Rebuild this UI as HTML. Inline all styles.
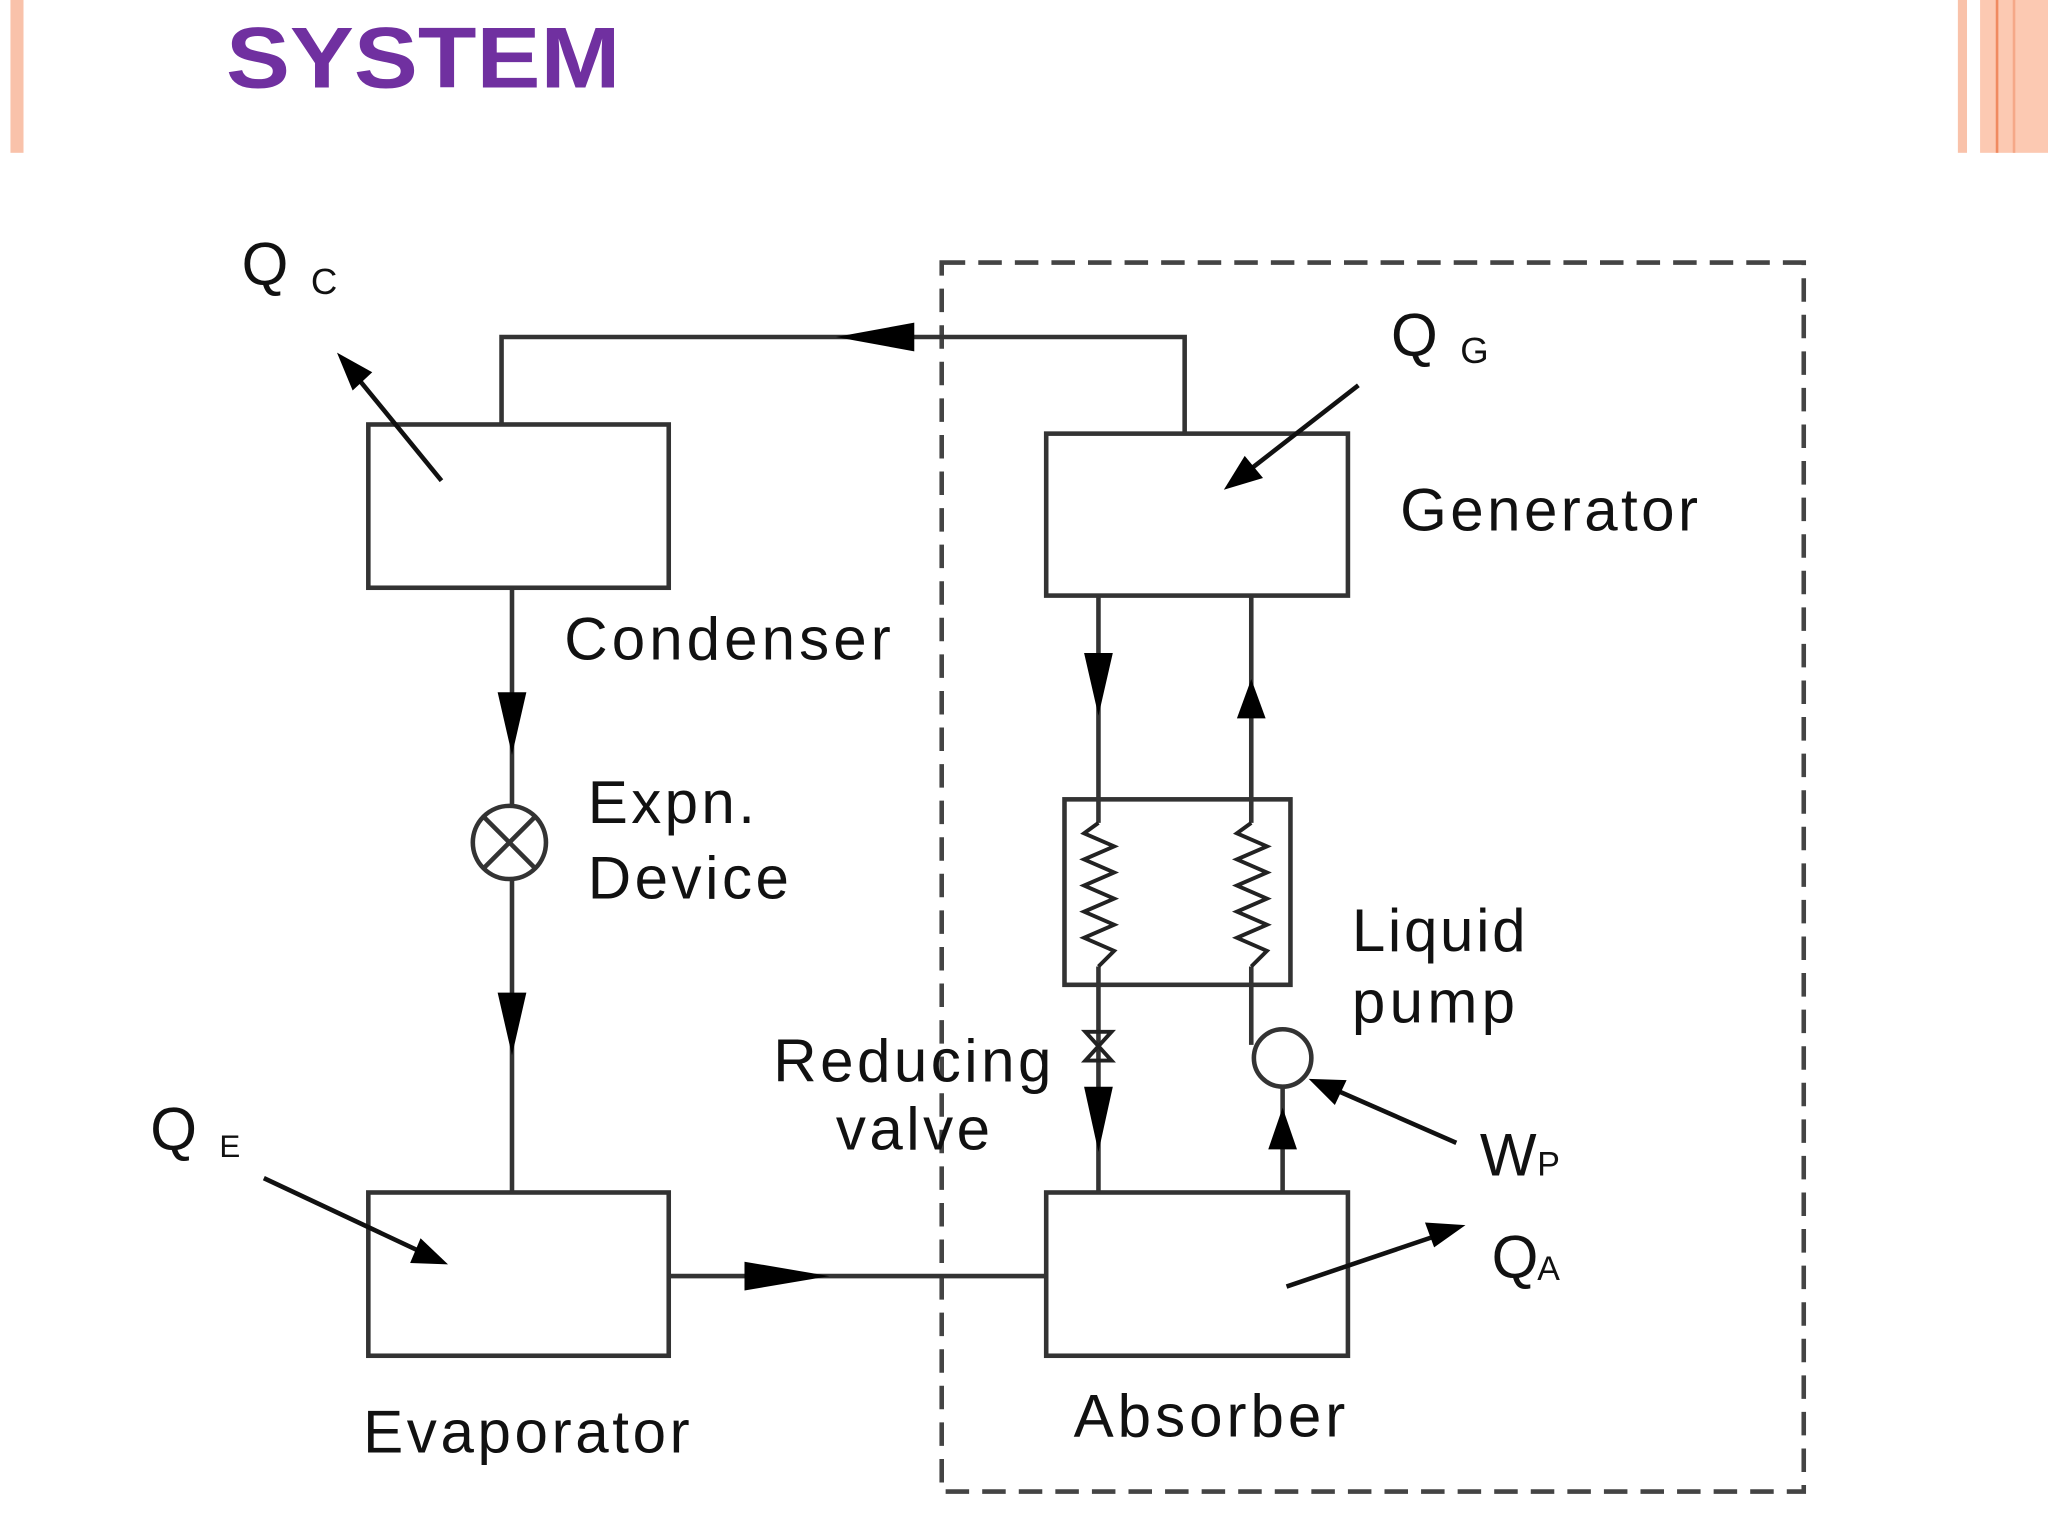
<!DOCTYPE html>
<html><head><style>html,body{margin:0;padding:0;background:#fff}svg{display:block}</style></head>
<body>
<svg width="2048" height="1536" viewBox="0 0 1568 1176" xmlns="http://www.w3.org/2000/svg">
<defs>
<marker id="a" viewBox="0 0 10 10" refX="10" refY="5" markerWidth="7" markerHeight="5" orient="auto" markerUnits="userSpaceOnUse"><path d="M0,0 L10,5 L0,10 z" fill="#000"/></marker>
</defs>
<rect width="1568" height="1176" fill="#fff"/>
<rect x="8" y="0" width="10" height="117" fill="#f9c2aa"/>
<rect x="1499" y="0" width="7" height="117" fill="#f9c2aa"/>
<rect x="1516" y="0" width="52" height="117" fill="#fcc9b2"/>
<rect x="1528" y="0" width="2" height="117" fill="#f08a60"/>
<rect x="1541" y="0" width="2" height="117" fill="#f5a888"/>
<text x="173" y="67" font-family="Liberation Sans, sans-serif" font-weight="bold" font-size="66" fill="#7030a0" textLength="302" lengthAdjust="spacingAndGlyphs">SYSTEM</text>

<g fill="none" stroke="#333" stroke-width="3.5">
<rect x="721" y="201" width="660" height="941" stroke-dasharray="18,10" stroke="#444"/>
<rect x="282" y="325" width="230" height="125"/>
<rect x="801" y="332" width="231" height="124"/>
<rect x="282" y="913" width="230" height="125"/>
<rect x="801" y="913" width="231" height="125"/>
<rect x="815" y="612" width="173" height="142"/>
<polyline points="384,325 384,258 907,258 907,332"/>
<line x1="392" y1="450" x2="392" y2="617"/>
<line x1="392" y1="673" x2="392" y2="913"/>
<circle cx="390" cy="645" r="28"/>
<line x1="370" y1="625" x2="410" y2="665"/><line x1="410" y1="625" x2="370" y2="665"/>
<line x1="841" y1="456" x2="841" y2="630"/>
<line x1="841" y1="740" x2="841" y2="913"/>
<line x1="958" y1="456" x2="958" y2="630"/>
<line x1="958" y1="740" x2="958" y2="800"/>
<circle cx="982" cy="810" r="22"/>
<line x1="982" y1="832" x2="982" y2="913"/>
<line x1="512" y1="977" x2="801" y2="977"/>
<polyline stroke="#222" stroke-width="3" points="841,630 830,638 853,648 830,658 853,668 830,678 853,688 830,698 853,708 830,718 853,728 841,740"/>
<polyline stroke="#222" stroke-width="3" points="958,630 947,638 970,648 947,658 970,668 947,678 970,688 947,698 970,708 947,718 970,728 958,740"/>
<path d="M831,790 L851,790 L831,812 L851,812 Z" stroke="#222" stroke-width="3"/>
</g>
<g fill="#000">
<path d="M640,258 L700,247 L700,269 Z"/>
<path d="M392,578 L381,530 L403,530 Z"/>
<path d="M392,808 L381,760 L403,760 Z"/>
<path d="M841,548 L830,500 L852,500 Z"/>
<path d="M958,520 L947,550 L969,550 Z"/>
<path d="M841,882 L830,832 L852,832 Z"/>
<path d="M982,848 L971,880 L993,880 Z"/>
<path d="M635,977 L570,966 L570,988 Z"/>
</g>
<g stroke="#111" stroke-width="3.5">
<line x1="338" y1="368" x2="262" y2="275"/>
<line x1="1040" y1="295" x2="950" y2="365"/>
<line x1="1115" y1="875" x2="1010" y2="829"/>
<line x1="985" y1="985" x2="1112" y2="942"/>
<line x1="202" y1="902" x2="332" y2="963"/>
</g>
<g fill="#000">
<path d="M258,270 L285,285 L270,299 Z"/>
<path d="M937,375 L953,349 L967,366 Z"/>
<path d="M1002,826 L1031,827 L1022,846 Z"/>
<path d="M1122,938 L1098,955 L1091,936 Z"/>
<path d="M343,968 L314,967 L322,948 Z"/>
</g>
<g font-family="Liberation Sans, sans-serif" fill="#111" font-size="46" lengthAdjust="spacingAndGlyphs">
<text x="185" y="218">Q</text><text x="238" y="225" font-size="28">C</text>
<text x="1065" y="272">Q</text><text x="1118" y="278" font-size="28">G</text>
<text x="115" y="880">Q</text><text x="168" y="886" font-size="24">E</text>
<text x="1072" y="406" textLength="228">Generator</text>
<text x="432" y="505" textLength="250">Condenser</text>
<text x="450" y="630" textLength="128">Expn.</text>
<text x="450" y="688" textLength="154">Device</text>
<text x="1035" y="728" textLength="133">Liquid</text>
<text x="1035" y="783" textLength="125">pump</text>
<text x="592" y="828" textLength="213">Reducing</text>
<text x="640" y="880" textLength="118">valve</text>
<text x="1133" y="900">W</text><text x="1177" y="900" font-size="26">P</text>
<text x="1142" y="978">Q</text><text x="1177" y="980" font-size="26">A</text>
<text x="278" y="1112" textLength="250">Evaporator</text>
<text x="822" y="1100" textLength="208">Absorber</text>
</g>
</svg>
</body></html>
